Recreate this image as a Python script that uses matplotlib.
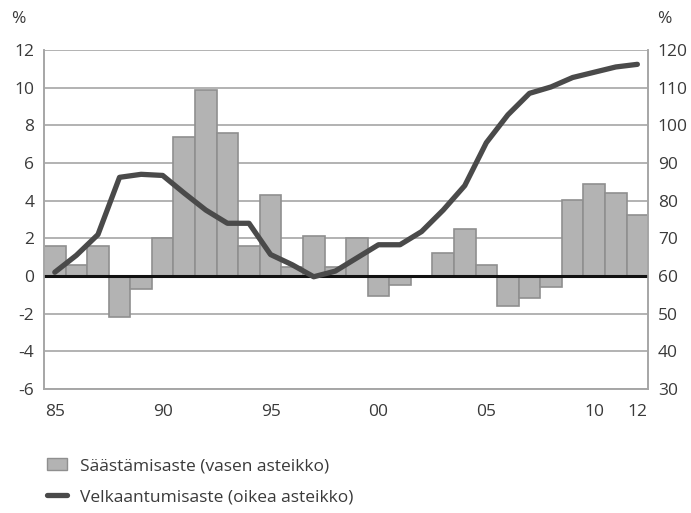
import matplotlib
matplotlib.use("Agg")
import matplotlib.pyplot as plt
from matplotlib.patches import Patch
from matplotlib.lines import Line2D

plt.rcParams["font.family"] = ["Open Sans", "DejaVu Sans"]

# Data
years = list(range(1985, 2013))
saving_rate = [1.6, 0.6, 1.6, -2.2, -0.7, 2.0, 7.4, 9.9, 7.6, 1.6,
               4.3, 0.5, 2.1, 0.5, 2.0, -1.05, -0.5, 0.0, 1.2, 2.5,
               0.6, -1.6, -1.15, -0.6, 4.05, 4.9, 4.4, 3.25]
debt_ratio = [61.0, 65.5, 71.0, 86.2, 87.0, 86.7, 82.0, 77.5, 74.0, 74.0,
              65.7, 63.0, 59.8, 61.3, 64.8, 68.3, 68.3, 71.8, 77.5, 84.0,
              95.4, 102.8, 108.5, 110.2, 112.7, 114.1, 115.5, 116.2]
xtick_years = [1985, 1990, 1995, 2000, 2005, 2010, 2012]
xtick_labels = ["85", "90", "95", "00", "05", "10", "12"]
left_ticks = list(range(-6, 13, 2))
right_ticks = list(range(30, 121, 10))
legend_labels = ["Säästämisaste (vasen asteikko)",
                 "Velkaantumisaste (oikea asteikko)"]

text_col = "#3a3a3a"
grid_col = "#a6a6a6"
bar_col = "#b3b3b3"
bar_edge = "#8f8f8f"
line_col = "#4a4a4a"

fig = plt.figure(figsize=(6.91, 5.13), dpi=100)
ax = fig.add_axes([0.0637, 0.2417, 0.8743, 0.6608])

ax.bar(years, saving_rate, width=1.0, color=bar_col, edgecolor=bar_edge,
       linewidth=1.2, zorder=2)
ax.set_xlim(1984.5, 2012.5)
ax.set_ylim(-6, 12)
ax.set_yticks(left_ticks)
ax.set_yticklabels([str(t) for t in left_ticks])
ax.yaxis.grid(True, color=grid_col, linewidth=1.2, zorder=0)
ax.set_axisbelow(True)
ax.axhline(0, color="#111111", linewidth=2.2, zorder=3)

ax2 = ax.twinx()
ax2.plot(years, debt_ratio, color=line_col, linewidth=3.8,
         solid_capstyle="round", solid_joinstyle="round", zorder=4)
ax2.set_ylim(30, 120)
ax2.set_yticks(right_ticks)

for a in (ax, ax2):
    a.spines["top"].set_visible(False)
    for side in ("left", "right", "bottom"):
        a.spines[side].set_color(grid_col)
        a.spines[side].set_linewidth(1.2)
    a.tick_params(length=0, labelsize=12.5, colors=text_col)

ax.set_xticks(xtick_years)
ax.set_xticklabels(xtick_labels)
ax.tick_params(axis="x", pad=11)
ax.tick_params(axis="y", pad=7)
ax2.tick_params(axis="y", pad=7)

fig.text(0.026, 0.963, "%", fontsize=12.5, color=text_col, ha="center", va="center")
fig.text(0.962, 0.963, "%", fontsize=12.5, color=text_col, ha="center", va="center")

handles = [Patch(facecolor=bar_col, edgecolor=bar_edge, linewidth=1.0),
           Line2D([0], [0], color=line_col, linewidth=3.8, solid_capstyle="round")]
fig.legend(handles, legend_labels, loc="upper left", bbox_to_anchor=(0.045, 0.137),
           frameon=False, fontsize=12.5, labelcolor=text_col, handlelength=1.15,
           handleheight=0.7, handletextpad=0.75, labelspacing=0.85)

fig.savefig("out.png", dpi=100)
